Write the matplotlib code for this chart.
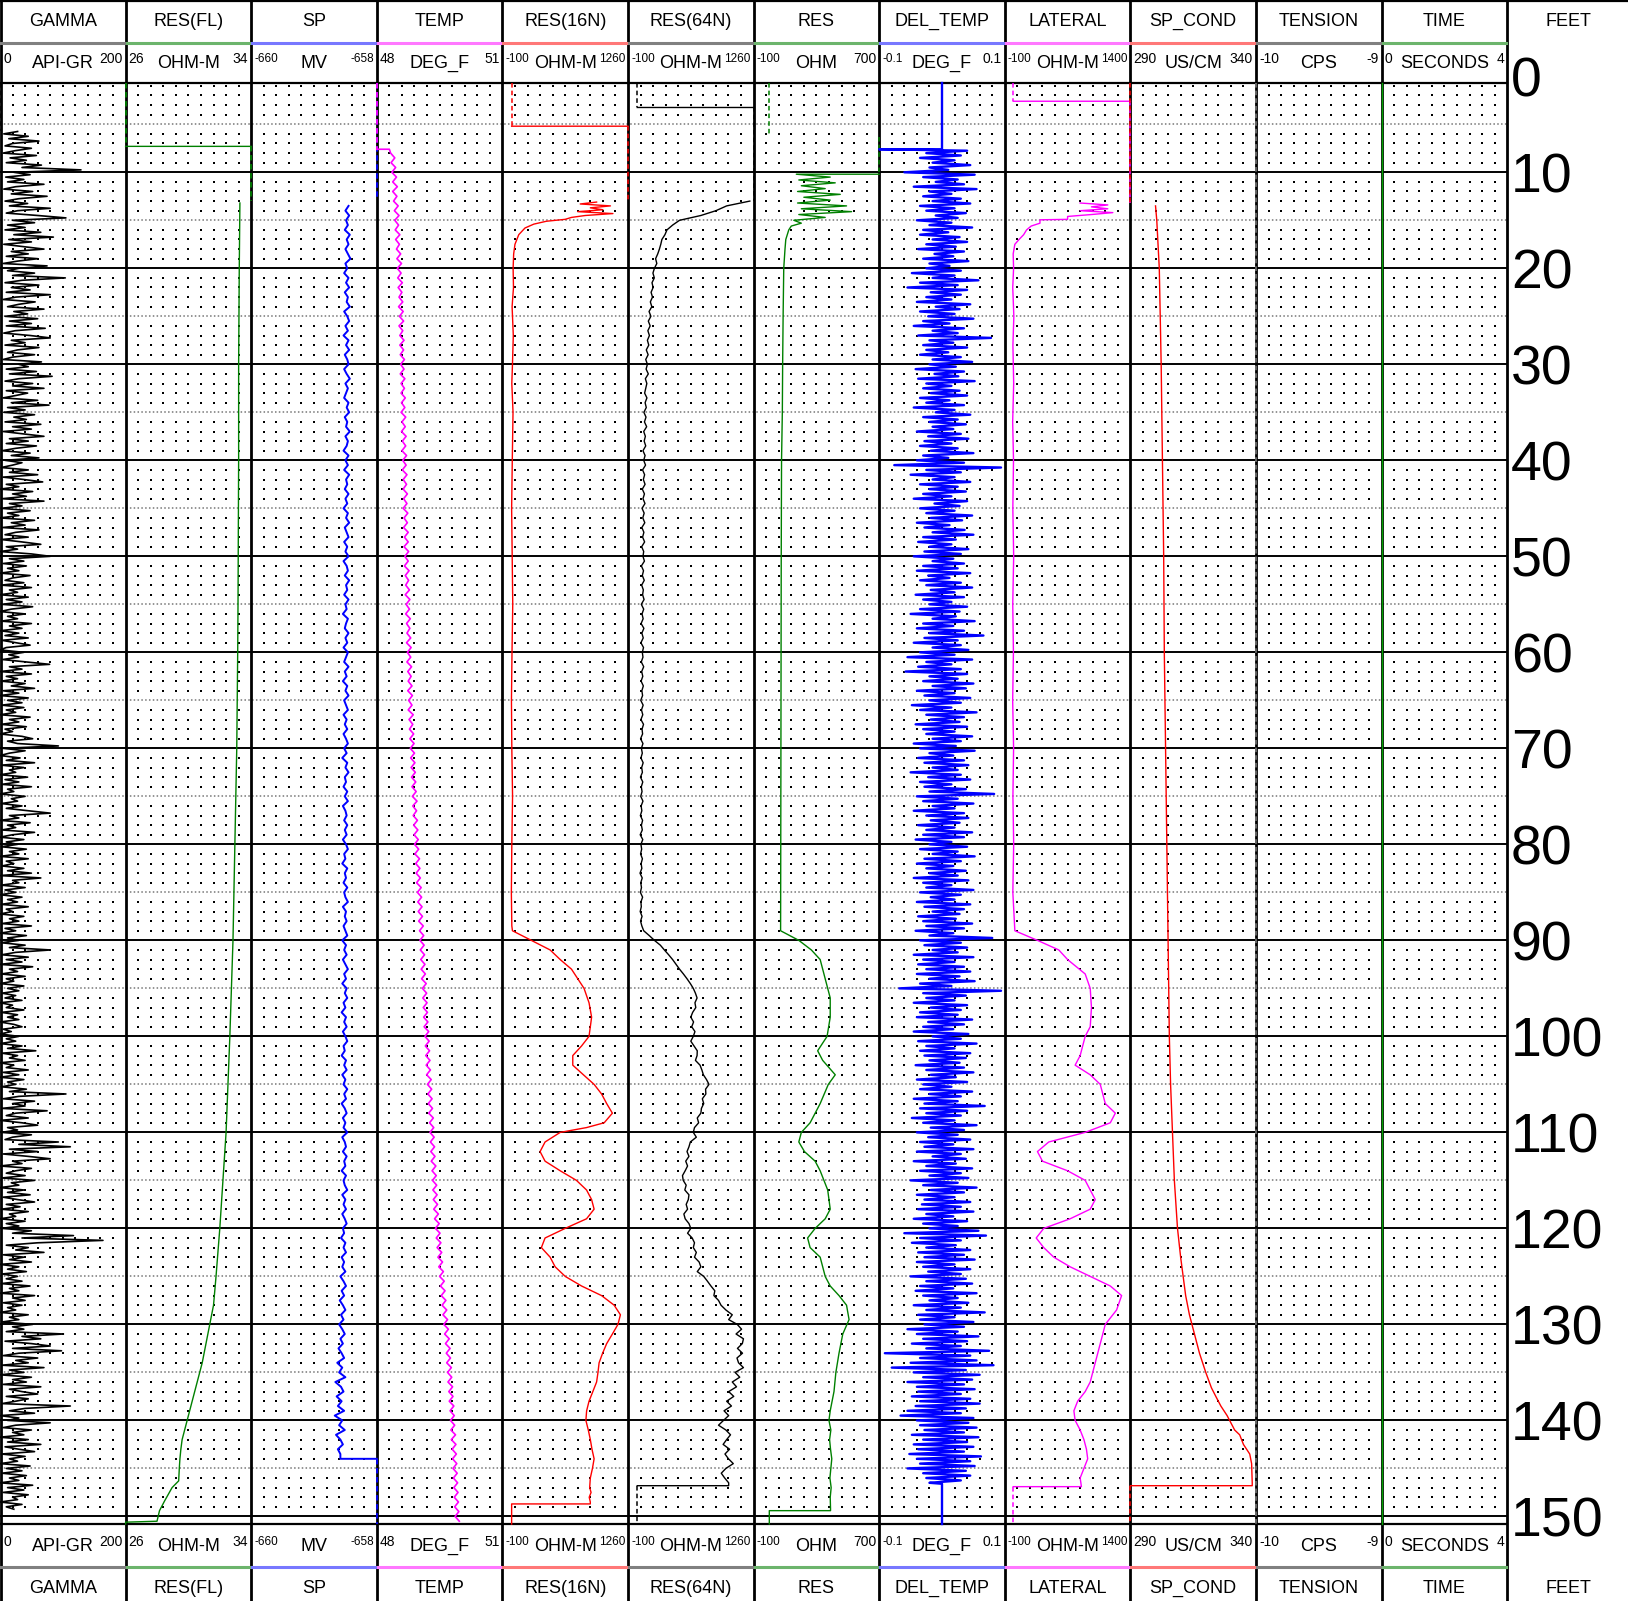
import numpy as np
import matplotlib
matplotlib.use('Agg')
import matplotlib.pyplot as plt
from matplotlib.transforms import offset_copy

plt.rcParams['font.family'] = ['Liberation Sans', 'DejaVu Sans']

nan = np.nan

# ---- track headers ----
TRACKS = ['GAMMA', 'RES(FL)', 'SP', 'TEMP', 'RES(16N)', 'RES(64N)', 'RES',
          'DEL_TEMP', 'LATERAL', 'SP_COND', 'TENSION', 'TIME']
UNITS = ['API-GR', 'OHM-M', 'MV', 'DEG_F', 'OHM-M', 'OHM-M', 'OHM',
         'DEG_F', 'OHM-M', 'US/CM', 'CPS', 'SECONDS']
SCALE_MIN = [0, 26, -660, 48, -100, -100, -100, -0.1, -100, 290, -10, 0]
SCALE_MAX = [200, 34, -658, 51, 1260, 1260, 700, 0.1, 1400, 340, -9, 4]
MIN_LABELS = ['0', '26', '-660', '48', '-100', '-100', '-100', '-0.1', '-100', '290', '-10', '0']
MAX_LABELS = ['200', '34', '-658', '51', '1260', '1260', '700', '0.1', '1400', '340', '-9', '4']
DEPTH_LABELS = list(range(0, 151, 10))

# ---- curves (depth in feet) ----
# GAMMA, API, every 0.25 ft from 5.75 ft
GAMMA_START = 5.75
GAMMA = [
    28, 6, 45, 14, 62, 20, 8, 50, 24, 5, 58, 16, 42, 10, 66, 35, 129, 22, 48, 9,
    38, 12, 70, 25, 6, 52, 18, 75, 30, 8, 44, 15, 80, 28, 10, 60, 105, 20, 55, 12,
    40, 8, 65, 22, 85, 14, 50, 6, 38, 70, 18, 45, 10, 60, 28, 5, 75, 30, 12, 55,
    20, 104, 35, 8, 62, 18, 48, 10, 80, 25, 5, 56, 30, 12, 70, 22, 44, 8, 60, 15,
    50, 10, 72, 24, 6, 48, 80, 18, 40, 8, 62, 28, 12, 55, 20, 5, 66, 30, 45, 10,
    58, 15, 83, 30, 8, 52, 20, 70, 10, 44, 25, 5, 60, 18, 78, 12, 40, 6, 55, 22,
    42, 8, 65, 20, 50, 5, 38, 70, 15, 45, 10, 58, 25, 3, 48, 18, 62, 8, 35, 20,
    2, 45, 15, 60, 5, 38, 68, 10, 30, 0, 52, 20, 42, 3, 70, 15, 35, 2, 48, 12,
    30, 0, 55, 18, 40, 4, 62, 25, 8, 45, 2, 35, 65, 10, 28, 0, 50, 80, 15, 38,
    5, 42, 12, 30, 0, 48, 20, 8, 38, 2, 50, 15, 28, 0, 45, 10, 35, 3, 52, 18,
    0, 40, 12, 28, 2, 50, 15, 35, 0, 30, 8, 45, 3, 25, 48, 10, 0, 38, 14, 30,
    4, 42, 79, 15, 35, 0, 50, 10, 28, 2, 40, 18, 55, 5, 30, 0, 45, 12, 35, 3,
    38, 10, 25, 0, 48, 15, 30, 2, 42, 8, 20, 0, 35, 52, 12, 28, 93, 5, 40, 15,
    0, 32, 10, 55, 2, 38, 15, 25, 0, 44, 8, 30, 3, 50, 12, 22, 0, 40, 18, 28,
    2, 35, 10, 45, 80, 15, 30, 0, 48, 12, 25, 3, 55, 20, 0, 38, 10, 28, 2, 42,
    15, 30, 0, 45, 10, 22, 3, 38, 12, 50, 0, 65, 20, 30, 2, 40, 8, 25, 0, 35,
    12, 28, 2, 45, 10, 20, 0, 38, 15, 30, 3, 50, 8, 25, 0, 42, 12, 30, 2, 40,
    15, 80, 25, 3, 45, 10, 35, 0, 52, 15, 28, 2, 40, 10, 22, 0, 38, 12, 30, 3,
    25, 8, 35, 0, 20, 10, 38, 2, 28, 12, 30, 0, 22, 35, 5, 18, 0, 30, 10, 25,
    0, 35, 12, 57, 3, 28, 15, 40, 0, 22, 10, 45, 5, 30, 0, 38, 12, 25, 2, 42,
    15, 105, 30, 5, 55, 20, 40, 3, 75, 25, 10, 45, 0, 35, 60, 12, 28, 2, 50, 20,
    8, 93, 30, 112, 15, 60, 5, 45, 80, 20, 35, 0, 50, 25, 10, 40, 3, 55, 18, 30,
    0, 38, 12, 48, 5, 28, 55, 10, 32, 2, 45, 15, 25, 0, 40, 10, 30, 3, 50, 20,
    117, 35, 164, 60, 10, 45, 25, 70, 5, 38, 15, 50, 0, 30, 12, 42, 3, 28, 10, 35,
    2, 48, 15, 30, 0, 55, 20, 40, 5, 35, 12, 25, 0, 45, 15, 30, 3, 52, 20, 38,
    10, 101, 35, 65, 8, 50, 80, 20, 98, 30, 5, 60, 25, 45, 3, 70, 15, 38, 0, 50,
    20, 42, 5, 65, 15, 35, 60, 10, 45, 25, 3, 112, 40, 15, 55, 0, 30, 12, 80, 25,
    5, 50, 20, 38, 0, 45, 12, 65, 8, 30, 55, 2, 40, 15, 28, 0, 48, 10, 35, 3,
    42, 15, 30, 0, 52, 12, 38, 5, 45, 20, 28, 0, 35, 10, 22,
]
GAMMA_NULL = [(0.70, 0), (5.75, 0)]

RESFL = [(7.3, 26), (7.3, 34), (nan, nan),
         (13.2, 33.28), (20, 33.24), (30, 33.20), (40, 33.20), (55, 33.16), (60, 33.14),
         (70, 33.08), (80, 32.96), (90, 32.84), (100, 32.64), (105, 32.52), (110, 32.40),
         (115, 32.20), (120, 32.00), (125, 31.76), (128, 31.60), (130, 31.36), (132, 31.12),
         (134, 30.88), (136, 30.56), (138, 30.24), (140, 29.92), (141, 29.76), (142, 29.60),
         (143, 29.52), (144, 29.46), (145, 29.42), (146.3, 29.38), (147, 28.96),
         (148.4, 28.48), (149.4, 28.16), (150.5, 28.0), (150.6, 26.0), (150.79, 26.0)]
RESFL_NULL = [(0.70, 26), (7.3, 26), (nan, nan), (7.3, 34), (12.95, 34)]

# SP, mV, every 0.5 ft from 13.5 ft
SP_START = 13.5
SP = [
    -658.45, -658.50, -658.44, -658.49, -658.46, -658.51, -658.43, -658.48, -658.45, -658.50,
    -658.46, -658.42, -658.50, -658.47, -658.52, -658.45, -658.49, -658.44, -658.51, -658.46,
    -658.48, -658.43, -658.52, -658.47, -658.44, -658.50, -658.46, -658.53, -658.45, -658.49,
    -658.44, -658.51, -658.47, -658.45, -658.52, -658.48, -658.43, -658.50, -658.46, -658.49,
    -658.52, -658.45, -658.48, -658.44, -658.51, -658.47, -658.49, -658.43, -658.50, -658.46,
    -658.48, -658.53, -658.45, -658.50, -658.46, -658.52, -658.44, -658.49, -658.47, -658.51,
    -658.45, -658.50, -658.47, -658.53, -658.46, -658.49, -658.44, -658.51, -658.48, -658.45,
    -658.52, -658.47, -658.50, -658.45, -658.53, -658.48, -658.46, -658.51, -658.44, -658.49,
    -658.47, -658.52, -658.45, -658.50, -658.48, -658.54, -658.46, -658.49, -658.51, -658.45,
    -658.50, -658.47, -658.53, -658.46, -658.49, -658.52, -658.45, -658.51, -658.48, -658.54,
    -658.47, -658.50, -658.45, -658.52, -658.49, -658.46, -658.53, -658.48, -658.51, -658.47,
    -658.53, -658.49, -658.46, -658.52, -658.48, -658.55, -658.47, -658.50, -658.45, -658.51,
    -658.49, -658.53, -658.47, -658.51, -658.46, -658.54, -658.50, -658.48, -658.52, -658.47,
    -658.51, -658.48, -658.54, -658.49, -658.46, -658.52, -658.50, -658.55, -658.47, -658.51,
    -658.49, -658.53, -658.47, -658.52, -658.50, -658.46, -658.54, -658.49, -658.51, -658.48,
    -658.53, -658.50, -658.47, -658.55, -658.49, -658.52, -658.48, -658.54, -658.50, -658.46,
    -658.52, -658.49, -658.55, -658.48, -658.51, -658.47, -658.53, -658.50, -658.56, -658.49,
    -658.52, -658.48, -658.54, -658.50, -658.47, -658.53, -658.51, -658.56, -658.49, -658.52,
    -658.48, -658.55, -658.50, -658.53, -658.47, -658.52, -658.49, -658.56, -658.51, -658.48,
    -658.54, -658.50, -658.53, -658.47, -658.55, -658.51, -658.49, -658.54, -658.48, -658.52,
    -658.50, -658.56, -658.49, -658.53, -658.51, -658.47, -658.55, -658.50, -658.53, -658.49,
    -658.55, -658.51, -658.48, -658.54, -658.52, -658.57, -658.50, -658.53, -658.49, -658.56,
    -658.52, -658.55, -658.50, -658.58, -658.53, -658.49, -658.56, -658.52, -658.59, -658.54,
    -658.50, -658.57, -658.53, -658.60, -658.55, -658.51, -658.58, -658.54, -658.61, -658.56,
    -658.52, -658.63, -658.55, -658.60, -658.50, -658.66, -658.57, -658.53, -658.64, -658.56,
    -658.62, -658.52, -658.67, -658.55, -658.60, -658.51, -658.65, -658.58, -658.54, -658.62,
    -658.58,
]
SP_TAIL = [(144.0, -658.58), (144.0, -658.0)]
SP_NULL = [(0.70, -658), (12.9, -658), (nan, nan), (144.0, -658), (150.79, -658)]

# TEMP, deg F, every 0.5 ft from 8 ft
TEMP_START = 8.0
TEMP = [
    48.33, 48.43, 48.34, 48.45, 48.36, 48.47, 48.38, 48.49, 48.38, 48.48,
    48.40, 48.51, 48.42, 48.53, 48.43, 48.52, 48.44, 48.55, 48.45, 48.54,
    48.47, 48.57, 48.48, 48.59, 48.49, 48.58, 48.50, 48.61, 48.51, 48.60,
    48.53, 48.62, 48.52, 48.63, 48.54, 48.64, 48.53, 48.62, 48.55, 48.65,
    48.55, 48.64, 48.56, 48.66, 48.57, 48.65, 48.56, 48.67, 48.58, 48.66,
    48.58, 48.68, 48.59, 48.67, 48.58, 48.69, 48.60, 48.68, 48.59, 48.70,
    48.61, 48.69, 48.60, 48.71, 48.62, 48.70, 48.61, 48.72, 48.63, 48.71,
    48.63, 48.73, 48.64, 48.72, 48.63, 48.74, 48.65, 48.73, 48.64, 48.75,
    48.66, 48.75, 48.65, 48.76, 48.67, 48.75, 48.66, 48.77, 48.68, 48.76,
    48.69, 48.78, 48.68, 48.79, 48.70, 48.78, 48.69, 48.80, 48.71, 48.79,
    48.72, 48.81, 48.71, 48.82, 48.73, 48.81, 48.72, 48.83, 48.74, 48.82,
    48.75, 48.84, 48.74, 48.85, 48.76, 48.84, 48.75, 48.87, 48.77, 48.86,
    48.78, 48.88, 48.79, 48.89, 48.80, 48.90, 48.81, 48.91, 48.82, 48.92,
    48.83, 48.93, 48.84, 48.94, 48.85, 48.96, 48.86, 48.95, 48.87, 48.97,
    48.88, 48.98, 48.89, 48.99, 48.90, 49.00, 48.91, 49.02, 48.93, 49.03,
    48.94, 49.04, 48.95, 49.06, 48.97, 49.07, 48.98, 49.08, 48.99, 49.09,
    49.00, 49.11, 49.02, 49.12, 49.03, 49.13, 49.04, 49.14, 49.05, 49.15,
    49.06, 49.16, 49.07, 49.18, 49.09, 49.19, 49.10, 49.20, 49.11, 49.21,
    49.12, 49.22, 49.13, 49.24, 49.15, 49.25, 49.16, 49.26, 49.17, 49.27,
    49.18, 49.28, 49.19, 49.30, 49.21, 49.31, 49.22, 49.32, 49.23, 49.33,
    49.24, 49.35, 49.26, 49.36, 49.27, 49.37, 49.28, 49.38, 49.29, 49.39,
    49.30, 49.41, 49.32, 49.42, 49.33, 49.43, 49.34, 49.44, 49.35, 49.45,
    49.36, 49.47, 49.38, 49.49, 49.40, 49.51, 49.42, 49.53, 49.44, 49.55,
    49.46, 49.57, 49.48, 49.59, 49.50, 49.61, 49.52, 49.63, 49.54, 49.65,
    49.56, 49.67, 49.58, 49.69, 49.60, 49.71, 49.62, 49.73, 49.64, 49.75,
    49.66, 49.76, 49.67, 49.78, 49.69, 49.79, 49.70, 49.81, 49.72, 49.82,
    49.73, 49.84, 49.75, 49.85, 49.76, 49.86, 49.77, 49.88, 49.78, 49.89,
    49.80, 49.90, 49.81, 49.91, 49.82, 49.92, 49.83, 49.93, 49.84, 49.94,
    49.85, 49.95, 49.86, 49.96, 49.87, 49.97,
]
TEMP_HEAD = [(7.6, 48.0), (7.6, 48.3)]
TEMP_NULL = [(0.70, 48), (7.6, 48)]

RES16 = [(5.2, 0), (5.2, 1260), (nan, nan),
         (13.1, 920), (13.3, 743), (13.5, 1070), (13.7, 852), (13.9, 988), (14.1, 716),
         (14.3, 1097), (14.5, 798), (14.7, 648), (14.9, 580), (15.1, 376), (15.4, 240),
         (15.8, 145), (16.5, 77), (17.5, 36), (18.5, 22), (20, 16), (22, 20), (24, 5),
         (27, 18), (30, 9), (32, 2), (35, 15), (40, 7), (45, 0), (50, 6), (55, 12),
         (60, 4), (65, -2), (70, 2), (75, 10), (80, 2), (85, -3), (88.5, 2), (89, 9),
         (90, 213), (91, 417), (92, 526), (93, 648), (94, 716), (95, 784), (96.5, 838),
         (98, 866), (100, 838), (101, 757), (102, 662), (103, 662), (104, 777), (105, 893),
         (106, 974), (107, 1029), (108, 1091), (109, 1002), (109.5, 811), (110, 526),
         (111, 362), (112, 308), (113, 362), (114, 526), (115, 702), (116, 811), (117, 866),
         (118, 893), (119, 811), (120, 580), (121, 362), (122, 322), (123, 417), (124, 471),
         (125, 580), (126, 757), (127, 974), (128, 1110), (129, 1178), (130, 1151),
         (131, 1091), (132, 1029), (133, 985), (134, 947), (135, 935), (136, 920),
         (137, 879), (138, 838), (139, 812), (140, 804), (141, 830), (142, 852), (143, 870),
         (144, 893), (145, 875), (146, 852), (147, 845), (147.5, 860), (148, 840),
         (148.5, 852), (148.7, 852), (148.7, 0), (150.79, 0)]
RES16_NULL = [(0.70, 0), (5.2, 0), (nan, nan), (5.2, 1260), (13.0, 1260)]

# RES(64N), ohm-m, every 0.5 ft from 13 ft
RES64_START = 13.0
RES64 = [
    1219, 968, 852, 689, 458, 383, 322, 300, 267, 255,
    240, 222, 199, 212, 186, 170, 185, 160, 172, 150,
    165, 142, 158, 128, 148, 120, 140, 115, 132, 110,
    125, 98, 118, 92, 110, 96, 120, 88, 104, 92,
    80, 105, 85, 98, 72, 95, 78, 102, 70, 88,
    75, 92, 62, 85, 70, 90, 58, 80, 66, 85,
    55, 78, 62, 84, 52, 75, 60, 82, 50, 72,
    58, 80, 48, 70, 62, 78, 45, 68, 55, 76,
    48, 66, 58, 74, 44, 70, 52, 64, 42, 72,
    50, 65, 40, 68, 55, 62, 44, 70, 48, 60,
    42, 66, 50, 58, 38, 64, 46, 60, 40, 68,
    52, 58, 36, 62, 45, 55, 40, 64, 48, 56,
    35, 60, 44, 52, 38, 62, 42, 50, 34, 58,
    45, 55, 32, 60, 40, 48, 36, 56, 42, 50,
    30, 54, 38, 46, 34, 58, 40, 44, 32, 52,
    36, 50, 70, 130, 186, 250, 294, 340, 383, 420,
    458, 500, 539, 575, 607, 630, 648, 625, 634, 600,
    580, 610, 590, 625, 607, 580, 615, 650, 648, 630,
    680, 700, 716, 750, 777, 740, 743, 705, 720, 695,
    689, 650, 665, 620, 607, 640, 575, 560, 539, 560,
    525, 545, 519, 490, 498, 530, 515, 560, 553, 530,
    545, 505, 519, 560, 580, 545, 595, 620, 607, 640,
    620, 670, 689, 650, 720, 760, 798, 840, 830, 880,
    907, 960, 1029, 990, 1083, 1130, 1070, 1150, 1138, 1085,
    1140, 1080, 1097, 1150, 1060, 1110, 1029, 1075, 990, 1045,
    968, 1020, 940, 990, 934, 880, 960, 1010, 968, 930,
    1000, 950, 988, 1040, 960, 910, 947, 990,
]
RES64_HEAD = [(3.25, 0), (3.25, 1260)]
RES64_TAIL = [(146.8, 990), (146.8, 0)]
RES64_NULL = [(0.70, 0), (3.25, 0), (nan, nan), (3.25, 1260), (13.0, 1260),
              (nan, nan), (146.8, 0), (150.79, 0)]

RES = [(10.2, 700), (10.2, 172), (10.5, 388), (10.8, 188), (11.1, 420), (11.4, 204),
       (11.7, 356), (12.0, 180), (12.3, 452), (12.6, 220), (12.9, 388), (13.2, 180),
       (13.5, 492), (13.8, 204), (14.1, 524), (14.4, 188), (14.7, 356), (15.0, 156),
       (15.3, 204), (15.6, 140), (16.0, 124), (17, 105), (18, 100), (20, 92), (25, 88),
       (30, 85), (35, 83), (40, 78), (50, 76), (60, 75), (70, 74), (80, 73), (89, 72),
       (90, 188), (91, 268), (92, 324), (94, 356), (96, 388), (98, 388), (100, 368),
       (101.5, 308), (102.5, 340), (104, 420), (105, 376), (107, 324), (109, 260),
       (110, 204), (111, 188), (112, 224), (113, 292), (114, 324), (116, 372), (118, 388),
       (119, 356), (120, 292), (121, 244), (122, 260), (123, 324), (125, 356), (126, 388),
       (127, 444), (128, 492), (129.5, 508), (131, 468), (133, 444), (135, 424),
       (137, 412), (139, 388), (140, 380), (141, 392), (142, 384), (143, 390), (144, 398),
       (145, 392), (146, 386), (147, 394), (148, 388), (149.2, 390), (149.4, 390),
       (149.4, 0), (150.79, 0)]
RES_NULL = [(0.70, 0), (6.1, 0), (nan, nan), (6.3, 700), (10.2, 700)]

# DEL_TEMP, milli-deg F, every 0.25 ft from 7.75 ft
DEL_TEMP_START = 7.75
DEL_TEMP_MDEG = [
    40, -25, 30, -35, 20, -15, 45, -20, 10, -60, 52, -30, 25, -10, 35, -45, 55, -20, 15, -30,
    30, -15, 45, -35, 20, -25, 38, -10, 25, -40, 15, -20, 48, -30, 10, -35, 28, -15, 40, -25,
    22, -38, 35, -12, 18, -30, 42, -20, 12, -25, 30, -48, 20, -15, 58, -35, 25, -55, 40, -18,
    30, -25, 15, -40, 45, -10, 28, -35, 20, -22, 50, -30, 12, -45, 35, -15, 25, -38, 78, -20,
    18, -30, 40, -25, 10, -35, 30, -15, 48, -20, 22, -42, 35, -12, 26, -38, 52, -25, 15, -30,
    28, -18, 40, -35, 12, -25, 35, -45, 20, -10, 45, -30, 25, -20, 38, -15, 18, -40, 30, -22,
    42, -28, 15, -35, 25, -18, 50, -30, 10, -40, 35, -76, 94, -25, 30, -50, 20, -15, 45, -35,
    25, -20, 38, -30, 15, -45, 40, -12, 28, -35, 20, -25, 48, -18, 32, -40, 12, -28, 36, -15,
    50, -30, 22, -38, 15, -20, 42, -28, 30, -45, 18, -15, 35, -30, 25, -40, 45, -22, 12, -35,
    30, -25, 48, -18, 20, -42, 35, -30, 15, -20, 40, -35, 28, -50, 22, -15, 52, -30, 18, -40,
    35, -20, 66, -28, 25, -45, 30, -15, 42, -35, 20, -55, 48, -25, 15, -38, 30, -58, 40, -20,
    25, -30, 50, -15, 38, -40, 20, -28, 45, -20, 30, -48, 15, -35, 55, -25, 35, -18, 28, -42,
    40, -30, 20, -25, 48, -15, 30, -45, 22, -35, 52, -20, 18, -38, 35, -28, 42, -15, 25, -50,
    30, -22, 45, -35, 15, -28, 38, -20, 83, -40, 25, -30, 50, -15, 20, -45, 35, -25, 42, -18,
    28, -38, 20, -25, 48, -30, 35, -42, 15, -20, 40, -35, 25, -15, 52, -28, 30, -40, 18, -25,
    38, -20, 25, -45, 42, -30, 15, -25, 50, -35, 30, -18, 20, -40, 45, -28, 35, -15, 28, -38,
    22, -30, 48, -25, 35, -42, 18, -20, 80, -35, 30, -28, 40, -15, 25, -45, 50, -30, 20, -38,
    35, -25, 45, -40, 28, -20, 52, -35, 15, -68, 94, -30, 38, -25, 20, -45, 40, -18, 30, -35,
    25, -40, 48, -22, 35, -30, 18, -45, 42, -15, 30, -38, 55, -25, 20, -35, 45, -28, 38, -20,
    28, -42, 35, -25, 50, -18, 22, -40, 40, -30, 15, -35, 48, -20, 30, -45, 25, -28, 68, -35,
    40, -25, 30, -48, 20, -30, 55, -18, 35, -40, 25, -22, 45, -35, 18, -28, 50, -40, 30, -15,
    38, -45, 22, -25, 48, -35, 30, -20, 42, -50, 25, -30, 55, -18, 35, -40, 20, -28, 45, -32,
    30, -38, 50, -25, 18, -45, 40, -30, 25, -20, 58, -60, 70, -35, 30, -48, 22, -25, 45, -38,
    35, -28, 52, -40, 20, -30, 45, -22, 30, -50, 38, -25, 48, -35, 18, -42, 55, -30, 25, -20,
    42, -45, 30, -25, 68, -38, 20, -35, 50, -28, 35, -55, 25, -40, 58, -30, 40, -48, 30, -25,
    75, -91, 45, -35, 55, -50, 82, -80, 38, -45, 60, -30, 48, -55, 35, -40, 52, -38, 30, -48,
    45, -35, 60, -42, 38, -55, 30, -66, 50, -40, 42, -35, 55, -28, 35, -48, 58, -30, 40, -45,
    50, -38, 35, -52, 62, -40, 45, -35, 52, -55, 38, -30, 45, -25, 30, -20,
]
DEL_TEMP_HEAD = [(0.70, 0.0), (7.6, 0.0), (7.6, -0.1)]
DEL_TEMP_TAIL = [(146.6, 0.0), (150.79, 0.0)]

LATERAL = [(2.6, 0), (2.6, 1400), (nan, nan),
           (13.2, 800), (13.4, 1130), (13.6, 935), (13.8, 1130), (14.0, 800), (14.2, 1190),
           (14.4, 935), (14.6, 650), (14.9, 650), (14.95, 320), (15.3, 320), (15.6, 215),
           (16.0, 160), (16.5, 125), (17.0, 70), (17.5, 20), (18.5, 0), (20, 5), (22, -5),
           (25, 8), (28, -3), (32, 6), (36, -6), (40, 4), (45, -4), (50, 6), (55, -5),
           (60, 3), (65, -6), (70, 5), (75, -3), (80, 6), (85, -4), (89, 20), (90, 290),
           (91, 545), (92, 650), (93.5, 860), (95, 920), (97, 935), (99, 920), (100, 860),
           (102, 800), (103, 740), (104, 920), (105, 1040), (107, 1100), (108, 1220),
           (109, 1160), (110, 860), (111, 425), (112, 290), (113, 350), (114, 650),
           (115, 860), (117, 980), (118, 920), (119, 680), (120, 365), (121, 275),
           (122, 365), (123, 485), (124, 680), (125, 920), (126, 1160), (127, 1295),
           (128.5, 1235), (130, 1100), (132, 1040), (134, 980), (136, 920), (137, 860),
           (138, 770), (139, 725), (140, 740), (141, 800), (142, 845), (143, 875),
           (144, 890), (145, 845), (146, 800), (146.9, 815), (146.9, 0)]
LATERAL_NULL = [(0.70, 0), (2.6, 0), (nan, nan), (2.6, 1400), (13.2, 1400),
                (nan, nan), (146.9, 0), (150.79, 0)]

SP_COND = [(13.5, 300.0), (15, 300.5), (20, 301.5), (30, 302.25), (40, 302.75),
           (50, 303.25), (60, 303.5), (70, 304.0), (80, 304.5), (90, 305.0), (100, 305.5),
           (105, 306.0), (110, 306.75), (115, 307.5), (120, 308.75), (123, 310.0),
           (125, 311.0), (127, 312.0), (129, 313.5), (131, 315.5), (133, 317.5),
           (135, 320.0), (136.6, 322.25), (137.5, 324.0), (138.5, 326.0), (139.5, 328.5),
           (140, 329.5), (141, 331.5), (141.5, 333.5), (142.5, 335.0), (143.5, 337.5),
           (144.5, 338.25), (146.5, 338.5), (146.8, 338.5), (146.8, 290)]
SP_COND_NULL = [(0.70, 290), (13.2, 290), (nan, nan), (146.8, 290), (150.79, 290)]

TENSION_NULL = [(0.70, -10), (150.79, -10)]
TIME = [(0.70, 0), (150.79, 0)]

# ---- layout (pixels) ----
W, H = 1628, 1601
TW = 125.6
PLOT_TOP, PLOT_BOT = 83, 1524
D_TOP, D_BOT = 0.70, 150.79
HEAD_COLORS = ['#808080', '#6cb46c', '#7878ff', '#ff78ff', '#ff7878', '#808080',
               '#6cb46c', '#7878ff', '#ff78ff', '#ff7878', '#808080', '#6cb46c']
CURVE_COLORS = ['black', '#008000', '#0000ff', '#ff00ff', '#ff0000', 'black',
                '#008000', '#0000ff', '#ff00ff', '#ff0000', '#808080', '#00a000']
DASH = (0, (3, 2))

fig = plt.figure(figsize=(W / 100, H / 100), dpi=100)


def px_axes(x0, y0, x1, y1, z):
    a = fig.add_axes([x0 / W, 1 - y1 / H, (x1 - x0) / W, (y1 - y0) / H])
    a.set_zorder(z)
    a.patch.set_visible(False)
    a.axis('off')
    return a


# grid: solid every 10 ft, dotted every 5 ft, dots every foot
grid = px_axes(0, PLOT_TOP, 12 * TW, PLOT_BOT, 0)
grid.set_xlim(0, 12 * TW)
grid.set_ylim(D_BOT, D_TOP)
for d in range(5, 150, 10):
    grid.axhline(d, color='#777777', lw=1.1, ls=(0, (1, 1.5)))
for d in range(10, 151, 10):
    grid.axhline(d, color='black', lw=1.4)
dx = [i * TW + k * TW / 10 for i in range(12) for k in range(1, 10)]
dy = [d for d in range(1, 151) if d % 5]
gx, gy = np.meshgrid(dx, dy)
grid.plot(gx.ravel(), gy.ravel(), 's', ms=1.6, mew=0, color='black')

# header / borders
cv = px_axes(0, 0, W, H, 1)
cv.set_xlim(0, W)
cv.set_ylim(H, 0)
cv.plot([0, W], [0.8, 0.8], color='black', lw=1.6)
cv.plot([0, 12 * TW], [PLOT_TOP, PLOT_TOP], color='black', lw=1.6)
cv.plot([0, 12 * TW], [PLOT_BOT, PLOT_BOT], color='black', lw=1.6)
for i in range(13):
    x = max(i * TW, 1)
    cv.plot([x, x], [0, H], color='black', lw=2.0)
for i, name in enumerate(TRACKS):
    x0 = i * TW
    xc = x0 + TW / 2
    # four-character range labels are set smaller so they clear the unit
    fs_min = 8.5 if len(MIN_LABELS[i]) > 3 else 10
    fs_max = 8.5 if len(MAX_LABELS[i]) > 3 else 10
    for yline in (43, 1567):
        cv.plot([x0 + 1, x0 + TW - 1], [yline, yline], color=HEAD_COLORS[i], lw=2.2)
    for yt in (21, 1588):
        cv.text(xc, yt, name, ha='center', va='center', fontsize=13)
    for yu, yr in ((63, 59), (1546, 1542)):
        cv.text(xc, yu, UNITS[i], ha='center', va='center', fontsize=13)
        cv.text(x0 + 3, yr, MIN_LABELS[i], ha='left', va='center', fontsize=fs_min)
        cv.text(x0 + TW - 3, yr, MAX_LABELS[i], ha='right', va='center', fontsize=fs_max)
cv.text(1568, 21, 'FEET', ha='center', va='center', fontsize=13)
cv.text(1568, 1588, 'FEET', ha='center', va='center', fontsize=13)

# depth numbers
fx = px_axes(12 * TW, PLOT_TOP, W, PLOT_BOT, 1)
fx.set_xlim(0, 1)
fx.set_ylim(D_BOT, D_TOP)
tr = offset_copy(fx.transData, fig=fig, x=0, y=-20, units='dots')
for d in DEPTH_LABELS:
    fx.text(0.03, d, str(d), transform=tr, ha='left', va='baseline', fontsize=40)

# tracks
axs = []
for i in range(12):
    a = px_axes(i * TW, PLOT_TOP, (i + 1) * TW, PLOT_BOT, 2)
    a.set_xlim(SCALE_MIN[i], SCALE_MAX[i])
    a.set_ylim(D_BOT, D_TOP)
    axs.append(a)


def draw(i, pairs, lw=1.0, null=False):
    arr = np.array(pairs, dtype=float)
    axs[i].plot(arr[:, 1], arr[:, 0], color=CURVE_COLORS[i], lw=lw,
                ls=DASH if null else '-', clip_on=False)


def regular(start, step, vals):
    d = start + step * np.arange(len(vals))
    return list(zip(d, vals))


draw(0, regular(GAMMA_START, 0.25, GAMMA), lw=1.2)
draw(0, GAMMA_NULL, lw=1.1, null=True)

draw(1, RESFL)
draw(1, RESFL_NULL, lw=1.3, null=True)

draw(2, regular(SP_START, 0.5, SP) + SP_TAIL, lw=1.4)
draw(2, SP_NULL, lw=1.3, null=True)

draw(3, TEMP_HEAD + regular(TEMP_START, 0.5, TEMP), lw=1.2)
draw(3, TEMP_NULL, lw=1.3, null=True)

draw(4, RES16)
draw(4, RES16_NULL, lw=1.1, null=True)

draw(5, RES64_HEAD + [(nan, nan)] + regular(RES64_START, 0.5, RES64) + RES64_TAIL)
draw(5, RES64_NULL, lw=1.1, null=True)

draw(6, RES)
draw(6, RES_NULL, lw=1.1, null=True)

dt = [(d, v / 1000.0) for d, v in regular(DEL_TEMP_START, 0.25, DEL_TEMP_MDEG)]
draw(7, DEL_TEMP_HEAD + dt + DEL_TEMP_TAIL, lw=1.7)

draw(8, LATERAL)
draw(8, LATERAL_NULL, lw=1.1, null=True)

draw(9, SP_COND)
draw(9, SP_COND_NULL, lw=1.1, null=True)

draw(10, TENSION_NULL, lw=1.1, null=True)
draw(11, TIME, lw=1.0)

fig.savefig('out.png', dpi=100)
